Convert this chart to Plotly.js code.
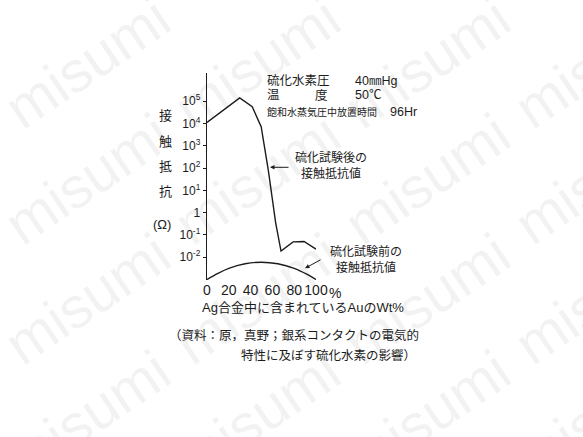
<!DOCTYPE html>
<html>
<head>
<meta charset="utf-8">
<script src="https://cdn.plot.ly/plotly-3.0.1.min.js"></script>
<style>
  html, body { margin: 0; padding: 0; background: #fff; }
</style>
</head>
<body>
<div id="graphDiv"></div>
<script>
// Au content in Ag alloy (wt%) and contact resistance (ohm)
let auAfter = [0, 30, 41.5, 49.7, 56.2, 59.9, 63.0, 67.9, 79, 89, 100];
let resAfter = [11000, 140000, 56000, 7100, 83, 4.6, 0.35, 0.019, 0.049, 0.051, 0.023];

let auBefore = [0, 10, 20, 35, 50, 65, 80, 92, 100];
let resBefore = [0.001, 0.0019, 0.0032, 0.0051, 0.0060, 0.0051, 0.0032, 0.0017, 0.001];

let xTickVals = [0, 20, 40, 60, 80, 100];
let xTickText = ['0', '20', '40', '60', '80', '100'];
let yTickVals = [0.01, 0.1, 1, 10, 100, 1000, 10000, 100000];
let yTickText = ['10<sup>-2</sup>', '10<sup>-1</sup>', '1', '10<sup>1</sup>', '10<sup>2</sup>',
                 '10<sup>3</sup>', '10<sup>4</sup>', '10<sup>5</sup>'];

let yTitleChars = ['接', '触', '抵', '抗', '(Ω)'];
let condLines = [['硫化水素圧', '40㎜Hg'], ['温', '50℃'], ['飽和水蒸気圧中放置時間', '96Hr']];
let labelAfter = '硫化試験後の<br>接触抵抗値';
let labelBefore = '硫化試験前の<br>接触抵抗値';
let xTitle = 'Ag合金中に含まれているAuのWt%';
let source1 = '（資料：原，真野；銀系コンタクトの電気的';
let source2 = '特性に及ぼす硫化水素の影響）';

function init() {
    let W = 583, H = 437;
    let L = 207, R = 316, T = 73, B = 280;   // plot box in pixels
    let font = 'Liberation Sans, Noto Sans CJK JP, sans-serif';
    let ink = '#1c1c1c';

    // pixel -> paper helpers for the free text
    let px = (x) => (x - L) / (R - L);
    let py = (y) => (B - y) / (B - T);

    let ann = [];
    function txt(x, y, text, size, anchor) {
        ann.push({
            xref: 'paper', yref: 'paper', x: px(x), y: py(y), text: text,
            showarrow: false, xanchor: anchor || 'left', yanchor: 'middle',
            font: {family: font, size: size, color: ink}
        });
    }

    // watermark first so it sits under the rest
    let wmX = [87, 257, 427, 597];
    let wmY = [62, 178, 298, 415];
    wmX.forEach(function (x) {
        wmY.forEach(function (y) {
            ann.push({
                xref: 'paper', yref: 'paper', x: px(x), y: py(y), text: 'misumi',
                showarrow: false, textangle: -34, xanchor: 'center', yanchor: 'middle',
                font: {family: 'Liberation Sans, sans-serif', size: 58, color: 'rgba(0,0,0,0.05)'}
            });
        });
    });

    // vertical y title
    let yTitleY = [115, 141.7, 166.7, 191.7, 225];
    yTitleChars.forEach(function (c, i) {
        txt(i < 4 ? 165 : 161.7, yTitleY[i], c, 13, 'center');
    });

    // test conditions
    txt(265, 80.7, condLines[0][0], 12.5);
    txt(353, 80.7, condLines[0][1], 12.5);
    txt(265, 95, condLines[1][0], 12.5);
    txt(313, 95, '度', 12.5);
    txt(353, 95, condLines[1][1], 12.5);
    txt(265, 111.7, condLines[2][0], 10);
    txt(388, 111.7, condLines[2][1], 12.5);

    // curve labels and arrows
    txt(293, 165.8, labelAfter, 12);
    txt(328, 259.2, labelBefore, 12);
    ann.push({xref: 'paper', yref: 'paper', x: px(270), y: py(167.3), text: '',
              showarrow: true, ax: 20, ay: 0, arrowhead: 2, arrowsize: 0.9,
              arrowwidth: 1, arrowcolor: ink});
    ann.push({xref: 'paper', yref: 'paper', x: px(305), y: py(268.3), text: '',
              showarrow: true, ax: 17, ay: -9.3, arrowhead: 2, arrowsize: 0.9,
              arrowwidth: 1, arrowcolor: ink});

    // percent sign after 100, x title, source
    txt(326.5, 292.5, '%', 14);
    txt(303.3, 307.3, xTitle, 13, 'center');
    txt(167, 335.7, source1, 12.5);
    txt(239, 355.7, source2, 12.5);

    let data = [{
        x: auAfter, y: resAfter, type: 'scatter', mode: 'lines',
        line: {color: ink, width: 1.4}, hoverinfo: 'skip'
    }, {
        x: auBefore, y: resBefore, type: 'scatter', mode: 'lines',
        line: {color: ink, width: 1.4, shape: 'spline'}, hoverinfo: 'skip'
    }];

    let layout = {
        width: W, height: H,
        margin: {l: L, r: W - R, t: T, b: H - B, pad: 0},
        paper_bgcolor: '#fff', plot_bgcolor: 'rgba(0,0,0,0)',
        showlegend: false,
        font: {family: font, color: ink},
        xaxis: {
            range: [0, 100], showgrid: false, zeroline: false, showline: false,
            ticks: '', tickvals: xTickVals, ticktext: xTickText,
            tickfont: {size: 14, color: ink}, fixedrange: true
        },
        yaxis: {
            type: 'log', range: [-3.02, 6.26], showgrid: false, zeroline: false,
            showline: true, linecolor: ink, linewidth: 1.3,
            ticks: 'outside', ticklen: 3, tickcolor: ink, tickwidth: 1,
            tickvals: yTickVals, ticktext: yTickText,
            tickfont: {size: 12, color: ink}, fixedrange: true
        },
        annotations: ann
    };

    Plotly.newPlot('graphDiv', data, layout, {staticPlot: true});
}

init();
</script>
</body>
</html>
